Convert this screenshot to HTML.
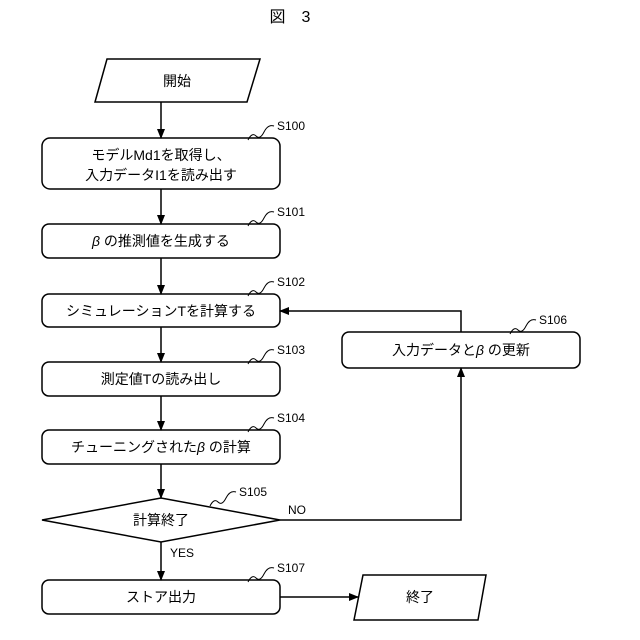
<html><body style="margin:0;background:#fff">
<svg width="640" height="640" viewBox="0 0 640 640" xmlns="http://www.w3.org/2000/svg" font-family="Liberation Sans, Noto Sans CJK JP, sans-serif" font-size="14">
<defs><marker id="a" markerWidth="10" markerHeight="10" refX="9" refY="5" orient="auto" markerUnits="userSpaceOnUse"><path d="M0,1 L10,5 L0,9 Z" fill="#000"/></marker></defs>
<g fill="none" stroke="#000" stroke-width="1.5">
<polygon points="107,59 260,59 247,102 95,102"/>
<rect x="42" y="138" width="238" height="51" rx="8"/>
<rect x="42" y="224" width="238" height="34" rx="7"/>
<rect x="42" y="294" width="238" height="33" rx="7"/>
<rect x="42" y="362" width="238" height="34" rx="7"/>
<rect x="42" y="430" width="238" height="34" rx="7"/>
<polygon points="42,520 161,498 280,520 161,542"/>
<rect x="42" y="580" width="238" height="34" rx="7"/>
<polygon points="363,575 486,575 478,620 354,620"/>
<rect x="342" y="332" width="238" height="36" rx="7"/>
<g marker-end="url(#a)">
<line x1="161" y1="102" x2="161" y2="138"/>
<line x1="161" y1="189" x2="161" y2="224"/>
<line x1="161" y1="258" x2="161" y2="294"/>
<line x1="161" y1="327" x2="161" y2="362"/>
<line x1="161" y1="396" x2="161" y2="430"/>
<line x1="161" y1="464" x2="161" y2="498"/>
<line x1="161" y1="542" x2="161" y2="580"/>
<line x1="280" y1="597" x2="358" y2="597"/>
<polyline points="280,520 461,520 461,368"/>
<polyline points="461,332 461,311 280,311"/>
</g>
<g stroke-width="1">
<path d="M248,140 q4,-8 8,-4 t8,-4 t10,-6"/>
<path d="M248,226 q4,-8 8,-4 t8,-4 t10,-6"/>
<path d="M248,296 q4,-8 8,-4 t8,-4 t10,-6"/>
<path d="M248,364 q4,-8 8,-4 t8,-4 t10,-6"/>
<path d="M248,432 q4,-8 8,-4 t8,-4 t10,-6"/>
<path d="M210,506 q4,-8 8,-4 t8,-4 t10,-6"/>
<path d="M248,582 q4,-8 8,-4 t8,-4 t10,-6"/>
<path d="M510,334 q4,-8 8,-4 t8,-4 t10,-6"/>
</g>
</g>
<g fill="#000" text-anchor="middle">
<text x="290" y="22" font-size="16">図　3</text>
<text x="177" y="86">開始</text>
<text x="161" y="160">モデルMd1を取得し、</text>
<text x="161" y="180">入力データI1を読み出す</text>
<text x="161" y="246"><tspan font-style="italic">β</tspan> の推測値を生成する</text>
<text x="161" y="316">シミュレーションTを計算する</text>
<text x="161" y="384">測定値Tの読み出し</text>
<text x="161" y="452">チューニングされた<tspan font-style="italic">β</tspan> の計算</text>
<text x="161" y="525">計算終了</text>
<text x="161" y="602">ストア出力</text>
<text x="420" y="602">終了</text>
<text x="461" y="355">入力データと<tspan font-style="italic">β</tspan> の更新</text>
</g>
<g fill="#000" font-size="12">
<text x="277" y="130">S100</text>
<text x="277" y="216">S101</text>
<text x="277" y="286">S102</text>
<text x="277" y="354">S103</text>
<text x="277" y="422">S104</text>
<text x="239" y="496">S105</text>
<text x="277" y="572">S107</text>
<text x="539" y="324">S106</text>
<text x="288" y="514">NO</text>
<text x="170" y="557">YES</text>
</g>
</svg>
</body></html>
